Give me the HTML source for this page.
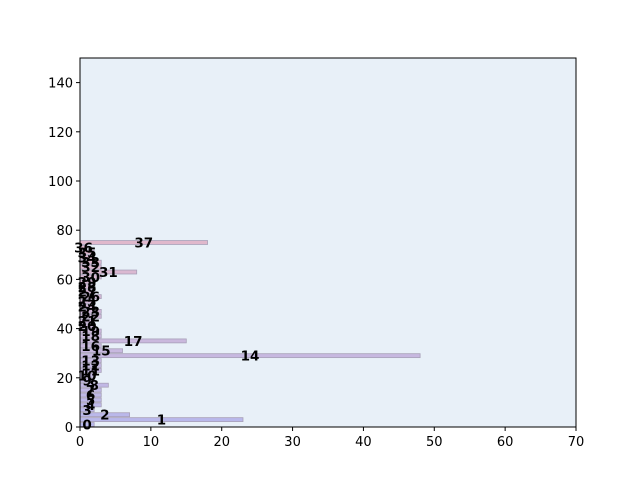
<!DOCTYPE html>
<html><head><meta charset="utf-8"><style>
body{margin:0;background:#fff;}
svg{display:block;font-family:"DejaVu Sans","Liberation Sans",sans-serif;}
</style></head><body>
<svg id="chart" width="640" height="480">
<rect x="0" y="0" width="640" height="480" fill="#fff"/>
<rect x="80" y="58" width="496" height="369" fill="#e8f0f8"/>
<g id="bars"></g>
<g id="labels"></g>
<rect x="80" y="58" width="496" height="369" fill="none" stroke="#000" stroke-width="1"/>
<g id="xticks"></g>
<g id="yticks"></g>
</svg>
<script>
const categories = ["0","1","2","3","4","5","6","7","8","9","10","11","12","13","14","15","16","17","18","19","20","21","22","23","24","25","26","27","28","29","30","31","32","33","34","35","36","37"];
const values = [2,23,7,2,3,3,3,3,4,2,2,3,3,3,48,6,3,15,3,3,2,2,3,3,2,2,3,2,2,2,3,8,3,3,2,2,1,18];
const xTicks = [0,10,20,30,40,50,60,70];
const yTicks = [0,20,40,60,80,100,120,140];

const X0=80,X1=576,Y0=427,Y1=58;
const xs = v => X0 + v/70*(X1-X0);
const ys = v => Y0 - v/150*(Y0-Y1);
const NS="http://www.w3.org/2000/svg";
const bars=document.getElementById('bars'), labels=document.getElementById('labels');
const n=categories.length;
function mix(a,b,t){return Math.round(a+(b-a)*t);}
categories.forEach((c,i)=>{
  const t=i/(n-1);
  const col=`rgb(${mix(184,224,t)},${mix(184,184,t)},${mix(236,204,t)})`;
  const yc=2*i+1;
  const r=document.createElementNS(NS,'rect');
  r.setAttribute('x',xs(0));
  r.setAttribute('y',ys(yc+0.8));
  r.setAttribute('width',xs(values[i])-xs(0));
  r.setAttribute('height',ys(yc-0.8)-ys(yc+0.8));
  r.setAttribute('fill',col);
  r.setAttribute('stroke','#a8a0b8');
  r.setAttribute('stroke-width','0.8');
  
  
  bars.appendChild(r);
  const tx=document.createElementNS(NS,'text');
  tx.setAttribute('x',xs(values[i]/2));
  tx.setAttribute('y',ys(yc)+5);
  tx.setAttribute('text-anchor','middle');
  tx.setAttribute('font-size','13.5');
  tx.setAttribute('font-weight','bold');
  tx.textContent=c;
  
  
  labels.appendChild(tx);
});
const xg=document.getElementById('xticks');
xTicks.forEach(v=>{
  const l=document.createElementNS(NS,'line');
  l.setAttribute('x1',xs(v));l.setAttribute('x2',xs(v));l.setAttribute('y1',Y0);l.setAttribute('y2',Y0+4);
  l.setAttribute('stroke','#000');
  
  
  xg.appendChild(l);
  const t=document.createElementNS(NS,'text');
  t.setAttribute('x',xs(v));t.setAttribute('y',Y0+19);t.setAttribute('text-anchor','middle');t.setAttribute('font-size','13');
  t.textContent=v;
  
  
  xg.appendChild(t);
});
const yg=document.getElementById('yticks');
yTicks.forEach(v=>{
  const l=document.createElementNS(NS,'line');
  l.setAttribute('x1',X0-4);l.setAttribute('x2',X0);l.setAttribute('y1',ys(v));l.setAttribute('y2',ys(v));
  l.setAttribute('stroke','#000');
  
  
  yg.appendChild(l);
  const t=document.createElementNS(NS,'text');
  t.setAttribute('x',X0-7);t.setAttribute('y',ys(v)+5);t.setAttribute('text-anchor','end');t.setAttribute('font-size','13');
  t.textContent=v;
  
  
  yg.appendChild(t);
});
</script>
</body></html>
